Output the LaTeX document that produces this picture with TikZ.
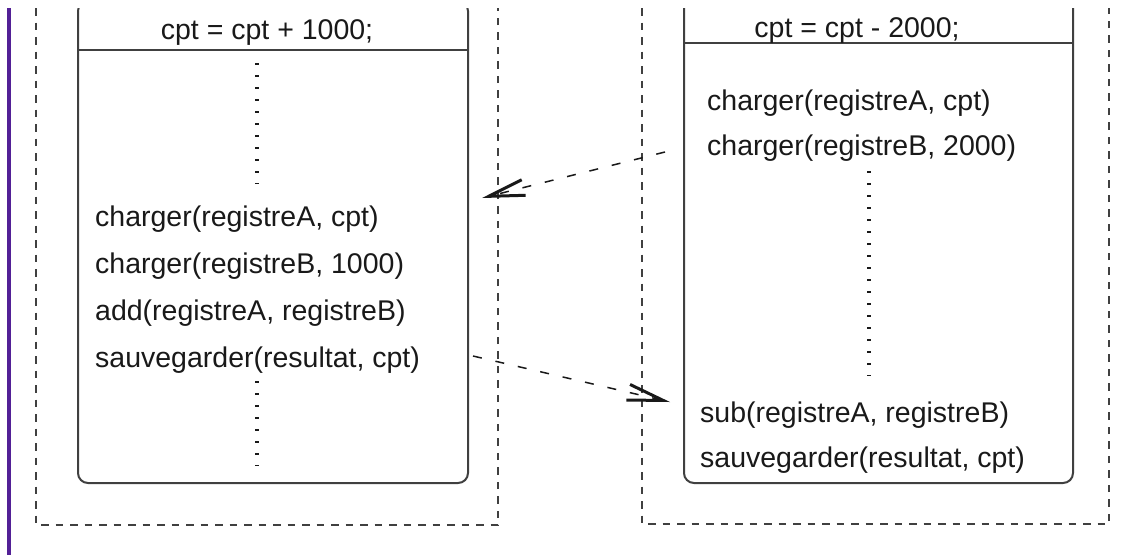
\documentclass[tikz,border=0pt]{standalone}
\usepackage{fontspec}
\setmainfont{Liberation Sans}
\usetikzlibrary{arrows.meta}
\definecolor{linegray}{rgb}{0.25,0.25,0.25}
\definecolor{txt}{rgb}{0.1,0.1,0.1}
\definecolor{barpurple}{RGB}{82,32,150}
\tikzset{
  outerbox/.style={draw=linegray, line width=2pt, dash pattern=on 7.5pt off 7pt},
  innerbox/.style={draw=linegray, line width=2pt, rounded corners=10pt},
  sepline/.style={draw=linegray, line width=2pt},
  dotline/.style={draw=txt, line width=4pt, dash pattern=on 2pt off 10pt},
  code/.style={inner sep=0pt, anchor=base west, text=txt, font=\fontsize{28.5}{34}\selectfont},
  head/.style={inner sep=0pt, anchor=base, text=txt, font=\fontsize{28.5}{34}\selectfont},
  msg/.style={draw=txt, line width=1.5pt, dash pattern=on 9pt off 14pt,
    -{Straight Barb[length=36pt,width=16pt,line width=3pt]}}
}
\begin{document}
\begin{tikzpicture}[x=1pt,y=-1pt]
\useasboundingbox (0,0) rectangle (1124,555);
\fill[barpurple] (7,8) rectangle (11,555);
\begin{scope}
\clip (0,8) rectangle (1124,555);
% left process
\draw[outerbox] (36,8) -- (36,525) -- (498,525) -- (498,8);
\draw[innerbox] (78,1) rectangle (468,483);
\draw[sepline] (78,50) -- (468,50);
% right process
\draw[outerbox] (642,8) -- (642,524) -- (1109,524) -- (1109,8);
\draw[innerbox] (684,-15) rectangle (1073,483);
\draw[sepline] (684,43) -- (1073,43);
\end{scope}
% left texts
\node[head] (lh) at (267,39) {cpt = cpt + 1000;};
\draw[dotline] (257,63) -- (257,184);
\node[code] (l1) at (95,226) {charger(registreA, cpt)};
\node[code] (l2) at (95,273) {charger(registreB, 1000)};
\node[code] (l3) at (95,320) {add(registreA, registreB)};
\node[code] (l4) at (95,367) {sauvegarder(resultat, cpt)};
\draw[dotline] (257,381) -- (257,466);
% right texts
\node[head] (rh) at (857,37) {cpt = cpt - 2000;};
\node[code] (r1) at (707,110) {charger(registreA, cpt)};
\node[code] (r2) at (707,155) {charger(registreB, 2000)};
\draw[dotline] (869,171) -- (869,376);
\node[code] (r3) at (700,422) {sub(registreA, registreB)};
\node[code] (r4) at (700,467) {sauvegarder(resultat, cpt)};
% messages
\coordinate (a1s) at (665,152);
\coordinate (a1e) at (482,198);
\coordinate (a2s) at (473,356);
\coordinate (a2e) at (670,402);
\draw[msg] (a1s) -- (a1e);
\draw[msg] (a2s) -- (a2e);
\end{tikzpicture}
\end{document}
